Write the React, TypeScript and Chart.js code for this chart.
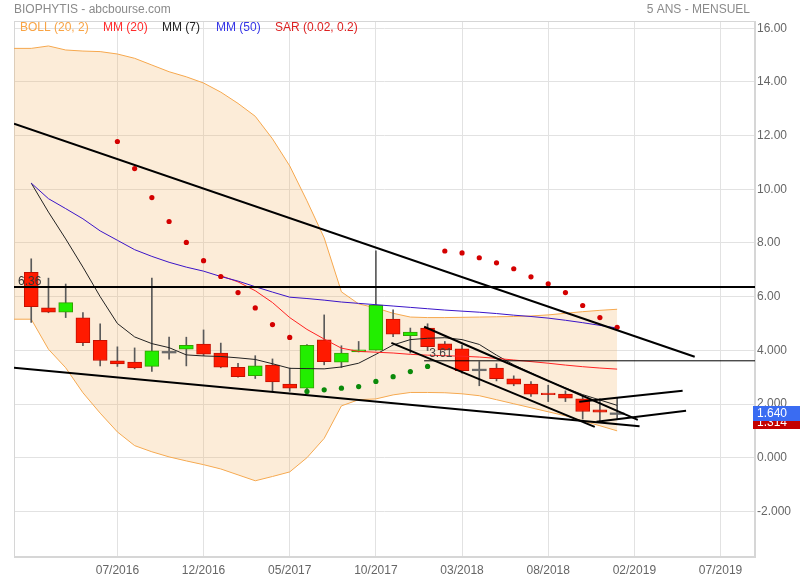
import React, { useEffect, useRef } from 'react';
import { Chart, registerables } from 'chart.js';

Chart.register(...registerables);

// ---------- axis ticks ----------
const X_TICK_POS = [5, 10, 15, 20, 25, 30, 35, 40];
const X_TICK_LABELS = ['07/2016', '12/2016', '05/2017', '10/2017', '03/2018', '08/2018', '02/2019', '07/2019'];
const Y_TICK_VALUES = [-2, 0, 2, 4, 6, 8, 10, 12, 14, 16];
const Y_TICK_LABELS = ['-2.000', '0.000', '2.000', '4.000', '6.00', '8.00', '10.00', '12.00', '14.00', '16.00'];

// ---------- monthly candles (index 0 = 02/2016) ----------
const OPEN = [6.91, 5.58, 5.42, 5.21, 4.37, 3.61, 3.56, 3.40, 3.93, 4.04, 4.23, 3.90, 3.37, 3.06, 3.45, 2.74, 2.59, 4.39, 3.56, 3.94, 4.01, 5.16, 4.55, 4.83, 4.24, 4.06, 3.27, 3.34, 2.94, 2.74, 2.41, 2.37, 2.19, 1.78, 1.65];
const HIGH = [7.41, 6.69, 6.47, 5.41, 4.99, 4.13, 4.09, 6.69, 4.49, 4.49, 4.76, 4.27, 3.52, 3.80, 3.68, 3.34, 4.21, 5.32, 4.17, 4.33, 7.71, 5.51, 4.83, 4.99, 4.33, 4.20, 3.58, 3.50, 3.05, 2.84, 2.70, 2.49, 2.28, 2.19, 2.22];
const LOW = [5.04, 5.40, 5.22, 4.17, 3.42, 3.40, 3.31, 3.21, 3.67, 3.42, 3.80, 3.35, 3.00, 2.95, 2.47, 2.47, 2.47, 3.46, 3.36, 3.94, 4.01, 4.51, 3.90, 3.99, 4.00, 3.15, 2.68, 2.86, 2.68, 2.28, 2.09, 2.09, 1.44, 1.35, 1.46];
const CLOSE = [5.63, 5.42, 5.78, 4.29, 3.62, 3.49, 3.34, 3.98, 3.93, 4.19, 3.86, 3.37, 3.02, 3.42, 2.82, 2.59, 4.19, 3.58, 3.90, 4.02, 5.69, 4.60, 4.68, 4.14, 4.02, 3.24, 3.27, 2.94, 2.74, 2.37, 2.35, 2.22, 1.72, 1.70, 1.64];

// ---------- Bollinger (20, 2), first value = month before index 0 ----------
const BOLL_START = -1;
const BOLL_UPPER = [15.25, 15.25, 15.34, 15.19, 15.15, 15.13, 15.04, 14.88, 14.63, 14.38, 14.19, 13.96, 13.62, 13.20, 12.72, 11.88, 10.87, 9.57, 8.19, 6.18, 5.73, 5.58, 5.38, 5.24, 5.22, 5.22, 5.23, 5.24, 5.25, 5.26, 5.28, 5.32, 5.38, 5.44, 5.49, 5.53];
const BOLL_LOWER = [5.16, 5.16, 4.04, 3.35, 2.42, 1.66, 0.96, 0.45, 0.22, 0.03, -0.12, -0.26, -0.42, -0.64, -0.86, -0.70, -0.53, 0.00, 0.72, 1.93, 2.16, 2.19, 2.34, 2.43, 2.43, 2.42, 2.38, 2.31, 2.16, 2.01, 1.86, 1.71, 1.56, 1.37, 1.19, 1.00];

// ---------- moving averages ----------
const MM20 = [null, null, null, null, null, null, null, null, null, null, null, 6.78, 6.55, 6.22, 5.78, 5.22, 4.78, 4.42, 4.08, 3.96, 3.93, 3.90, 3.85, 3.82, 3.80, 3.78, 3.75, 3.70, 3.64, 3.58, 3.52, 3.45, 3.39, 3.34, 3.30];
const MM7 = [10.23, 9.15, 8.15, 7.10, 6.00, 5.00, 4.50, 4.25, 4.10, 3.83, 3.79, 3.77, 3.72, 3.66, 3.50, 3.33, 3.32, 3.31, 3.38, 3.52, 3.85, 4.20, 4.40, 4.45, 4.47, 4.40, 4.22, 3.82, 3.46, 3.16, 2.86, 2.60, 2.35, 2.15, 1.95];
const MM50 = [10.23, 9.65, 9.28, 8.90, 8.45, 8.10, 7.75, 7.50, 7.28, 7.10, 6.95, 6.75, 6.58, 6.37, 6.17, 5.98, 5.93, 5.87, 5.80, 5.75, 5.70, 5.65, 5.60, 5.55, 5.50, 5.46, 5.42, 5.37, 5.31, 5.26, 5.20, 5.12, 5.03, 4.93, 4.83];

// ---------- parabolic SAR (0.02, 0.2) ----------
const SAR_ABOVE = [null, null, null, null, null, 11.78, 10.77, 9.69, 8.80, 8.02, 7.34, 6.75, 6.15, 5.58, 4.96, 4.48, null, null, null, null, null, null, null, null, 7.70, 7.63, 7.45, 7.26, 7.04, 6.74, 6.48, 6.15, 5.67, 5.22, 4.86];
const SAR_BELOW = [null, null, null, null, null, null, null, null, null, null, null, null, null, null, null, null, 2.47, 2.53, 2.59, 2.65, 2.84, 3.02, 3.21, 3.40, null, null, null, null, null, null, null, null, null, null, null];

// ---------- drawn trend lines (x in month index, y in price) ----------
const TREND_LONG_HIGH_X = [-1, 38.5];
const TREND_LONG_HIGH_Y = [12.44, 3.76];
const TREND_LONG_LOW_X = [-1, 35.3];
const TREND_LONG_LOW_Y = [3.35, 1.17];
const CHANNEL_HIGH_X = [22.8, 35.2];
const CHANNEL_HIGH_Y = [4.88, 1.41];
const CHANNEL_LOW_X = [20.9, 32.7];
const CHANNEL_LOW_Y = [4.28, 1.15];
const RISE_A_X = [31.8, 37.8];
const RISE_A_Y = [2.08, 2.49];
const RISE_B_X = [32.8, 38.0];
const RISE_B_Y = [1.34, 1.75];
const LEVEL_MAIN = 6.36;
const LEVEL_SECOND = 3.61;
const LEVEL_SECOND_START = 22.8;

// ---------- right-hand price tags ----------
const LAST_PRICE = 1.64;
const LAST_PRICE_LABEL = '1.640';
const REF_PRICE = 1.314;
const REF_PRICE_LABEL = '1.314';

const TITLE_LEFT = 'BIOPHYTIS - abcbourse.com';
const TITLE_RIGHT = '5 ANS - MENSUEL';
const LEGEND_TEXTS = ['BOLL (20, 2)', 'MM (20)', 'MM (7)', 'MM (50)', 'SAR (0.02, 0.2)'];
const LEGEND_COLORS = ['#f9a445', '#ff2b2b', '#222222', '#3535e6', '#dd2222'];

const FONT = "'Liberation Sans', Arial, Helvetica, sans-serif";

function series(values: (number | null)[], start = 0) {
  return values.map((v, i) => ({ x: i + start, y: v }));
}
function seg(xs: number[], ys: number[]) {
  return xs.map((x, i) => ({ x, y: ys[i] }));
}

export default function App() {
  const ref = useRef<HTMLCanvasElement>(null);

  useEffect(() => {
    document.body.style.margin = '0';
    const canvas = ref.current;
    if (!canvas) return;

    const isDoji = OPEN.map((o, i) => Math.abs(o - CLOSE[i]) < 0.03);
    const bodyData = OPEN.map((o, i) => ({
      x: i,
      y: isDoji[i] ? [CLOSE[i] - 0.03, CLOSE[i] + 0.03] : [Math.min(o, CLOSE[i]), Math.max(o, CLOSE[i])],
    }));
    const bodyFill = OPEN.map((o, i) => (isDoji[i] ? '#6a6a6a' : CLOSE[i] >= o ? '#22ee00' : '#ff1a00'));
    const bodyBorder = OPEN.map((o, i) => (isDoji[i] ? '#6a6a6a' : CLOSE[i] >= o ? '#33a000' : '#c41000'));
    const bodyBorderW = isDoji.map((d) => (d ? 0 : 1));
    const wickData = LOW.map((l, i) => ({ x: i, y: [l, HIGH[i]] }));

    const lineBase = { type: 'line', pointRadius: 0, borderWidth: 1, fill: false, tension: 0 };
    const trend = (data: any) => ({ ...lineBase, data, borderColor: '#000', borderWidth: 2, order: 1 });

    const overlay = {
      id: 'overlay',
      beforeDatasetsDraw(chart: any) {
        const { ctx, chartArea: a } = chart;
        ctx.save();
        ctx.strokeStyle = '#d6d6d6';
        ctx.lineWidth = 1;
        ctx.strokeRect(a.left + 0.5, a.top + 0.5, a.right - a.left - 1, a.bottom - a.top - 1);
        ctx.restore();
      },
      afterDraw(chart: any) {
        const { ctx, chartArea: a, scales } = chart;
        const ys = scales.y;
        const xs = scales.x;
        ctx.save();
        ctx.font = `12px ${FONT}`;
        ctx.textBaseline = 'middle';
        ctx.fillStyle = '#8a8a8a';
        ctx.textAlign = 'left';
        ctx.fillText(TITLE_LEFT, 14, 10);
        ctx.textAlign = 'right';
        ctx.fillText(TITLE_RIGHT, 750, 10);

        // legend inside plot
        ctx.textAlign = 'left';
        const legendX = [20, 103, 162, 216, 275];
        LEGEND_TEXTS.forEach((t, i) => {
          ctx.fillStyle = LEGEND_COLORS[i];
          ctx.fillText(t, legendX[i], 28);
        });

        // level labels
        ctx.textBaseline = 'bottom';
        ctx.fillStyle = '#333';
        ctx.fillText(LEVEL_MAIN.toFixed(2), a.left + 4, ys.getPixelForValue(LEVEL_MAIN) + 1);
        ctx.fillStyle = '#444';
        ctx.fillText(LEVEL_SECOND.toFixed(2), xs.getPixelForValue(LEVEL_SECOND_START) + 5, ys.getPixelForValue(LEVEL_SECOND) - 1);

        // price tags
        ctx.textBaseline = 'middle';
        const tag = (v: number, label: string, bg: string) => {
          const y = ys.getPixelForValue(v);
          ctx.fillStyle = bg;
          ctx.fillRect(a.right - 2, Math.round(y) - 8, 47, 15);
          ctx.fillStyle = '#fff';
          ctx.fillText(label, a.right + 2, y);
        };
        tag(REF_PRICE, REF_PRICE_LABEL, '#c40000');
        tag(LAST_PRICE, LAST_PRICE_LABEL, '#3a6cf2');
        ctx.restore();
      },
    };

    const chart = new Chart(canvas, {
      type: 'line',
      data: {
        datasets: [
          {
            ...lineBase,
            data: series(BOLL_UPPER, BOLL_START),
            borderColor: '#f6a84e',
            backgroundColor: 'rgba(243,179,99,0.25)',
            fill: '+1',
            order: 10,
          },
          {
            ...lineBase,
            data: series(BOLL_LOWER, BOLL_START),
            borderColor: '#f6a84e',
            order: 10,
          },
          {
            type: 'bar',
            data: wickData,
            backgroundColor: '#5a5a5a',
            barThickness: 1,
            grouped: false,
            order: 8,
          },
          {
            type: 'bar',
            data: bodyData,
            backgroundColor: bodyFill,
            borderColor: bodyBorder,
            borderWidth: bodyBorderW,
            borderSkipped: false,
            barThickness: 14,
            grouped: false,
            order: 7,
          },
          { ...lineBase, data: series(MM50), borderColor: '#3a14c8', order: 5 },
          { ...lineBase, data: series(MM20), borderColor: '#ff2222', order: 5 },
          { ...lineBase, data: series(MM7), borderColor: '#222', order: 5 },
          {
            ...lineBase,
            data: series(SAR_ABOVE),
            showLine: false,
            pointRadius: 2.6,
            pointBorderWidth: 0,
            pointBackgroundColor: '#d40000',
            order: 4,
          },
          {
            ...lineBase,
            data: series(SAR_BELOW),
            showLine: false,
            pointRadius: 2.6,
            pointBorderWidth: 0,
            pointBackgroundColor: '#0a8a0a',
            order: 4,
          },
          trend(seg(TREND_LONG_HIGH_X, TREND_LONG_HIGH_Y)),
          trend(seg(TREND_LONG_LOW_X, TREND_LONG_LOW_Y)),
          trend(seg(CHANNEL_HIGH_X, CHANNEL_HIGH_Y)),
          trend(seg(CHANNEL_LOW_X, CHANNEL_LOW_Y)),
          trend(seg(RISE_A_X, RISE_A_Y)),
          trend(seg(RISE_B_X, RISE_B_Y)),
          trend([{ x: -1, y: LEVEL_MAIN }, { x: 42, y: LEVEL_MAIN }]),
          { ...trend([{ x: LEVEL_SECOND_START, y: LEVEL_SECOND }, { x: 42, y: LEVEL_SECOND }]), borderWidth: 1 },
        ] as any,
      },
      options: {
        responsive: false,
        animation: false,
        devicePixelRatio: 1,
        layout: { padding: { left: 14, top: 21, right: 0, bottom: 0 } },
        plugins: { legend: { display: false }, tooltip: { enabled: false }, title: { display: false } },
        events: [],
        scales: {
          x: {
            type: 'linear',
            min: -1,
            max: 42,
            offset: false,
            grid: { color: '#e2e2e2', drawTicks: false, offset: false },
            border: { display: true, color: '#d6d6d6' },
            ticks: {
              padding: 6,
              color: '#666',
              font: { size: 12, family: FONT },
              autoSkip: false,
              maxRotation: 0,
              callback: (v: any) => {
                const i = X_TICK_POS.indexOf(Number(v));
                return i >= 0 ? X_TICK_LABELS[i] : '';
              },
            },
            afterBuildTicks: (s: any) => {
              s.ticks = X_TICK_POS.map((v) => ({ value: v }));
            },
            afterFit: (s: any) => {
              s.height = 23;
            },
          },
          y: {
            type: 'linear',
            position: 'right',
            min: -3.7,
            max: 16.27,
            grid: { color: '#e2e2e2', drawTicks: false },
            border: { display: true, color: '#d6d6d6' },
            ticks: {
              padding: 2,
              color: '#666',
              font: { size: 12, family: FONT },
              callback: (v: any) => {
                const i = Y_TICK_VALUES.indexOf(Number(v));
                return i >= 0 ? Y_TICK_LABELS[i] : '';
              },
            },
            afterBuildTicks: (s: any) => {
              s.ticks = Y_TICK_VALUES.map((v) => ({ value: v }));
            },
            afterFit: (s: any) => {
              s.width = 45;
            },
          },
        },
      } as any,
      plugins: [overlay],
    });

    return () => chart.destroy();
  }, []);

  return (
    <div style={{ width: 800, height: 580 }}>
      <canvas ref={ref} width={800} height={580} style={{ display: 'block' }} />
    </div>
  );
}
